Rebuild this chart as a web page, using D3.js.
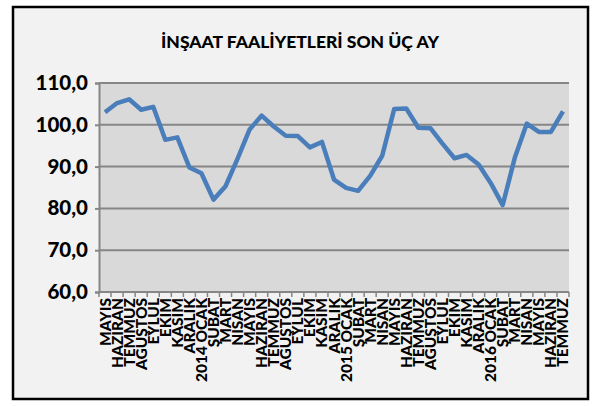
<!DOCTYPE html>
<html><head><meta charset="utf-8">
<script src="https://cdn.jsdelivr.net/npm/d3@7"></script>
<style>body{margin:0;background:#fff}svg{display:block}</style>
</head><body>
<svg id="c" width="599" height="406"></svg>
<script>
const title = "İNŞAAT FAALİYETLERİ SON ÜÇ AY";
const categories = ["MAYIS","HAZIRAN","TEMMUZ","AGUŞTOS","EYLUL","EKIM","KASIM","ARALIK",
  "2014 OCAK","ŞUBAT","MART","NISAN","MAYIS","HAZIRAN","TEMMUZ","AGUŞTOS","EYLUL","EKIM","KASIM","ARALIK",
  "2015 OCAK","ŞUBAT","MART","NISAN","MAYIS","HAZIRAN","TEMMUZ","AGUŞTOS","EYLUL","EKIM","KASIM","ARALIK",
  "2016 OCAK","ŞUBAT","MART","NISAN","MAYIS","HAZIRAN","TEMMUZ"];
const values = [103.0,105.2,106.1,103.6,104.3,96.4,97.0,89.8,88.4,82.1,85.3,91.9,98.9,102.2,99.6,97.4,97.3,94.6,95.9,86.9,
  84.9,84.2,87.8,92.6,103.8,103.9,99.3,99.2,95.5,92.0,92.8,90.5,86.1,80.8,92.1,100.3,98.3,98.3,103.2];
const yTicks = [60,70,80,90,100,110];

const svg = d3.select("#c");
const font = "Lato, 'Open Sans', sans-serif";
svg.append("rect").attr("x",13).attr("y",7).attr("width",575).attr("height",392)
  .attr("fill","#f2f2f2").attr("stroke","#000").attr("stroke-width",2.5);

svg.append("text").attr("x",300).attr("y",48).attr("text-anchor","middle")
  .attr("font-family",font).attr("font-weight",900).attr("font-size",17.5).attr("fill","#000").text(title);

const L=99, R=569, T=83, B=292;
const x = d3.scaleBand().domain(d3.range(categories.length)).range([L,R]);
const y = d3.scaleLinear().domain([60,110]).range([B,T]);

svg.append("rect").attr("x",L).attr("y",T).attr("width",R-L).attr("height",B-T).attr("fill","#d9d9d9");

svg.append("g").selectAll("line").data(yTicks.filter(d=>d>60)).join("line")
  .attr("x1",L).attr("x2",R).attr("y1",d=>y(d)).attr("y2",d=>y(d))
  .attr("stroke","#868686").attr("stroke-width",2);

const ya = svg.append("g").attr("transform",`translate(${L},0)`)
  .call(d3.axisLeft(y).tickValues(yTicks).tickSize(4).tickPadding(7).tickFormat(d=>d3.format(".1f")(d).replace(".",",")));
ya.select(".domain").attr("stroke","#868686").attr("stroke-width",2);
ya.selectAll(".tick line").attr("stroke","#868686").attr("stroke-width",2);
ya.selectAll("text").attr("font-family",font).attr("font-weight",900).attr("font-size",20.5).attr("fill","#000");

svg.append("line").attr("x1",L).attr("x2",R).attr("y1",B).attr("y2",B).attr("stroke","#868686").attr("stroke-width",2);
const bounds = d3.range(categories.length+1).map(i=> i<categories.length ? x(i) : R);
svg.append("g").selectAll("line").data(bounds).join("line")
  .attr("x1",d=>d).attr("x2",d=>d).attr("y1",B).attr("y2",B+5).attr("stroke","#868686").attr("stroke-width",1.5);

svg.append("g").selectAll("text").data(categories).join("text")
  .attr("transform",(d,i)=>`translate(${x(i)+x.bandwidth()/2+5.5},${B+6}) rotate(-90)`)
  .attr("text-anchor","end").attr("font-family",font).attr("font-weight",900).attr("font-size",15.5).attr("fill","#000")
  .text(d=>d);

const line = d3.line().x((d,i)=>x(i)+x.bandwidth()/2).y(d=>y(d));
svg.append("path").datum(values).attr("d",line).attr("fill","none")
  .attr("stroke","#4a7ebb").attr("stroke-width",4.5).attr("stroke-linejoin","round");
</script>
</body></html>
